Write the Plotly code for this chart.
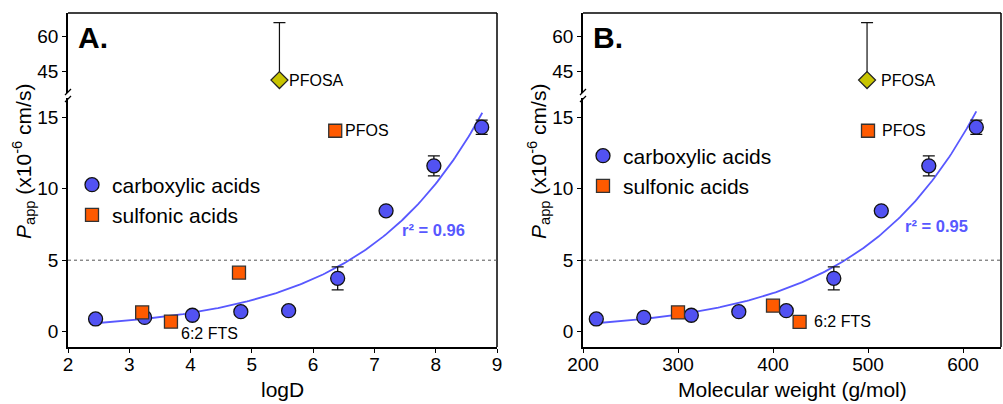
import numpy as np
import plotly.graph_objects as go

# ---------------- data ----------------
carb_logd = [2.45, 3.25, 4.03, 4.82, 5.60, 6.40, 7.19, 7.97, 8.75]
carb_mw = [214, 264, 314, 364, 414, 464, 514, 564, 614]
carb_papp = [0.89, 1.00, 1.15, 1.40, 1.47, 3.73, 8.45, 11.6, 14.3]
carb_err = [0, 0, 0, 0, 0, 0.8, 0, 0.7, 0.5]

sulf_logd = [3.21, 3.68, 4.79, 6.36]
sulf_papp_a = [1.35, 0.70, 4.13, 14.05]
sulf_mw = [300, 400, 428, 500]
sulf_papp_b = [1.35, 1.82, 0.68, 14.05]

pfosa_logd = [5.45]
pfosa_mw = [499]
pfosa_papp = [41.4]
pfosa_err_up = [24.6]

# exponential fit parameters  y = a * exp(b * x)
fit_a_logd, fit_b_logd, fit_range_logd = 0.1667, 0.516, (2.45, 8.76)
fit_a_mw, fit_b_mw, fit_range_mw = 0.1034, 0.00815, (213.6, 614)
r2_text = ["r² = 0.96", "r² = 0.95"]
r2_pos = [(7.96, 7.1), (572, 7.4)]

labels_a = {"PFOSA": (pfosa_logd[0], pfosa_papp[0]), "PFOS": (sulf_logd[3], sulf_papp_a[3]),
            "6:2 FTS": (sulf_logd[1], sulf_papp_a[1])}
labels_b = {"PFOSA": (pfosa_mw[0], pfosa_papp[0]), "PFOS": (sulf_mw[3], sulf_papp_b[3]),
            "6:2 FTS": (sulf_mw[2], sulf_papp_b[2])}

# ---------------- styling ----------------
W, H = 1003, 404
FONT = "Arial, Liberation Sans, sans-serif"
BLUE = "#5252F2"
ORANGE = "#FF5A00"
OLIVE = "#C8C400"
LINE_BLUE = "#5858FF"


def px(x):
    return x / W


def py(y):
    return 1 - y / H


fig = go.Figure()

panels = [
    dict(xa="x", ya_low="y", ya_up="y2", cx=carb_logd, sx=sulf_logd, sy=sulf_papp_a, ox=pfosa_logd,
         fit=(fit_a_logd, fit_b_logd, fit_range_logd), legend="legend", labels=labels_a),
    dict(xa="x2", ya_low="y3", ya_up="y4", cx=carb_mw, sx=sulf_mw, sy=sulf_papp_b, ox=pfosa_mw,
         fit=(fit_a_mw, fit_b_mw, fit_range_mw), legend="legend2", labels=labels_b),
]

for p in panels:
    a, b, rng = p["fit"]
    xf = np.linspace(rng[0], rng[1], 200)
    fig.add_trace(go.Scatter(x=xf, y=a * np.exp(b * xf), mode="lines",
                             line=dict(color=LINE_BLUE, width=1.8), showlegend=False,
                             xaxis=p["xa"], yaxis=p["ya_low"], hoverinfo="skip"))
    fig.add_trace(go.Scatter(x=p["cx"], y=carb_papp, mode="markers", name="carboxylic acids",
                             marker=dict(symbol="circle", size=14, color=BLUE,
                                         line=dict(color="#111", width=1.3)),
                             error_y=dict(type="data", array=carb_err, visible=True,
                                          color="#111", thickness=1.3, width=6),
                             legend=p["legend"], xaxis=p["xa"], yaxis=p["ya_low"]))
    fig.add_trace(go.Scatter(x=p["sx"], y=p["sy"], mode="markers", name="sulfonic acids",
                             marker=dict(symbol="square", size=13, color=ORANGE,
                                         line=dict(color="#333", width=1.3)),
                             legend=p["legend"], xaxis=p["xa"], yaxis=p["ya_low"]))
    fig.add_trace(go.Scatter(x=p["ox"], y=pfosa_papp, mode="markers", showlegend=False,
                             marker=dict(symbol="diamond", size=13, color=OLIVE,
                                         line=dict(color="#222", width=1.3)),
                             error_y=dict(type="data", symmetric=False, array=pfosa_err_up,
                                          arrayminus=[0], visible=True, color="#111",
                                          thickness=1.2, width=6),
                             xaxis=p["xa"], yaxis=p["ya_up"]))

tick_font = dict(family=FONT, size=19, color="black")
common_axis = dict(showline=True, linecolor="black", linewidth=1.5, ticks="outside",
                   ticklen=4, tickwidth=1.4, tickcolor="black", tickfont=tick_font,
                   showgrid=False, zeroline=False, mirror=False, automargin=False)

low_dom = [py(347), py(98)]
up_dom = [py(93), py(13)]
low_range = [-1.07, 16.34]
up_range = [35.87, 70.16]

fig.update_layout(
    width=W, height=H, margin=dict(l=0, r=0, t=0, b=0, pad=0),
    plot_bgcolor="white", paper_bgcolor="white",
    font=dict(family=FONT, color="black"),
    xaxis=dict(domain=[px(68), px(497)], range=[2, 9], tickvals=list(range(2, 10)),
               anchor="y", ticklabelstandoff=-5, **common_axis),
    yaxis=dict(domain=low_dom, range=low_range, tickvals=[0, 5, 10, 15], anchor="x", **common_axis),
    yaxis2=dict(domain=up_dom, range=up_range, tickvals=[45, 60], anchor="x", **common_axis),
    xaxis2=dict(domain=[px(583), px(1001)], range=[200, 640], tickvals=[200, 300, 400, 500, 600],
                anchor="y3", ticklabelstandoff=-5, **common_axis),
    yaxis3=dict(domain=low_dom, range=low_range, tickvals=[0, 5, 10, 15], anchor="x2", **common_axis),
    yaxis4=dict(domain=up_dom, range=up_range, tickvals=[45, 60], anchor="x2", **common_axis),
    legend=dict(x=px(72), y=py(200), xanchor="left", yanchor="middle", bgcolor="rgba(0,0,0,0)",
                font=dict(family=FONT, size=21, color="black"), tracegroupgap=0, itemsizing="trace"),
    legend2=dict(x=px(583), y=py(171), xanchor="left", yanchor="middle", bgcolor="rgba(0,0,0,0)",
                 font=dict(family=FONT, size=21, color="black"), tracegroupgap=0, itemsizing="trace"),
)

shapes = []
annotations = []
for left, right, xa, ya_low, ya_up, tag, xtitle, p in [
        (68, 497, "x", "y", "y2", "A.", "logD", panels[0]),
        (583, 1001, "x2", "y3", "y4", "B.", "Molecular weight (g/mol)", panels[1])]:
    # frame: top and right
    shapes.append(dict(type="line", xref="paper", yref="paper", x0=px(left), x1=px(right),
                       y0=py(13), y1=py(13), line=dict(color="black", width=1.5)))
    shapes.append(dict(type="line", xref="paper", yref="paper", x0=px(right), x1=px(right),
                       y0=py(13), y1=py(347), line=dict(color="black", width=1.5)))
    # axis break marks
    for yy in (92, 99):
        shapes.append(dict(type="line", xref="paper", yref="paper", x0=px(left - 3), x1=px(left + 3),
                           y0=py(yy + 3), y1=py(yy - 3), line=dict(color="black", width=1.3)))
    # dotted line at 5
    shapes.append(dict(type="line", xref=f"{xa} domain", yref=ya_low, x0=0, x1=1, y0=5, y1=5,
                       line=dict(color="#555", width=1, dash="dot")))
    # panel tag
    annotations.append(dict(text=f"<b>{tag}</b>", xref="paper", yref="paper", x=px(left + 8),
                            y=py(38), xanchor="left", yanchor="middle", showarrow=False,
                            font=dict(size=30, family=FONT, color="black")))
    # x title
    annotations.append(dict(text=xtitle, xref="paper", yref="paper", x=px((left + right) / 2),
                            y=py(389), xanchor="center", yanchor="middle", showarrow=False,
                            font=dict(size=21, family=FONT, color="black")))
    # y title
    annotations.append(dict(text="<i>P</i><sub>app</sub> (x10<sup>-6</sup> cm/s)", xref="paper",
                            yref="paper", x=px(left - 45), y=py(162), textangle=-90,
                            xanchor="center", yanchor="middle", showarrow=False,
                            font=dict(size=21, family=FONT, color="black")))
    # point labels
    for name, (lx, ly) in p["labels"].items():
        yref = ya_up if name == "PFOSA" else ya_low
        if name == "6:2 FTS" and tag == "A.":
            annotations.append(dict(text=name, xref=xa, yref=yref, x=lx, y=ly, xanchor="left",
                                    yanchor="middle", xshift=8, yshift=-12, showarrow=False,
                                    font=dict(size=16, family=FONT, color="black")))
        else:
            annotations.append(dict(text=name, xref=xa, yref=yref, x=lx, y=ly, xanchor="left",
                                    yanchor="middle", xshift=8 if tag == "A." else 12,
                                    showarrow=False,
                                    font=dict(size=16, family=FONT, color="black")))

# r² labels
for (rx, ry), txt, xa, ya in zip(r2_pos, r2_text, ["x", "x2"], ["y", "y3"]):
    annotations.append(dict(text=f"<b>{txt}</b>", xref=xa, yref=ya, x=rx, y=ry,
                            xanchor="center", yanchor="middle", showarrow=False,
                            font=dict(size=16.5, family=FONT, color=LINE_BLUE)))

fig.update_layout(shapes=shapes, annotations=annotations)
fig.write_html("out.html", config={"displayModeBar": False},
               post_script="document.body.style.margin='0px';document.body.style.overflow='hidden';")
